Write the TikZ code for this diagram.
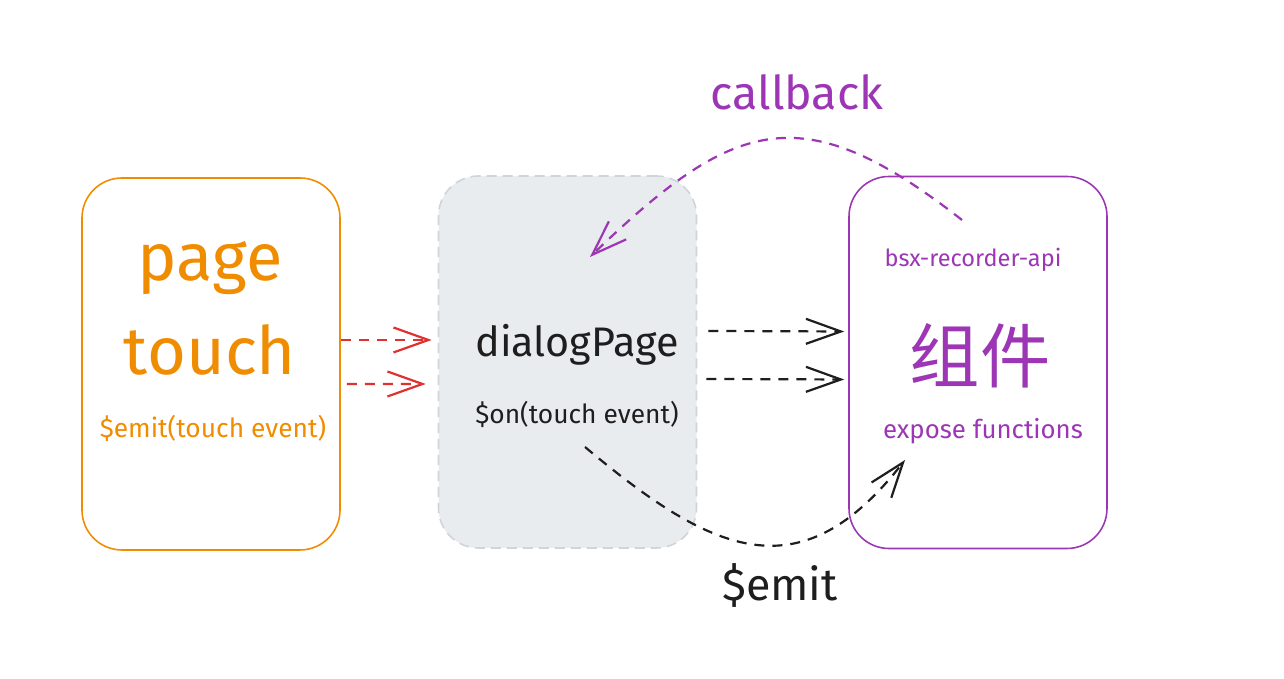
\documentclass[tikz,border=0pt]{standalone}
\usepackage{fontspec}
\setmainfont{Fira Sans}
\newfontfamily\cjk{Noto Sans CJK SC}
\usepackage{tikz}
\usetikzlibrary{arrows.meta, positioning, calc}
\definecolor{pageorange}{HTML}{F08C00}
\definecolor{comppurple}{HTML}{9C36B5}
\definecolor{touchred}{HTML}{E03131}
\definecolor{dlgfill}{HTML}{E9ECEF}
\definecolor{dlgborder}{HTML}{CED4DA}
\definecolor{ink}{HTML}{1E1E1E}

\begin{document}
\begin{tikzpicture}[
        card/.style={rectangle, rounded corners=0.8cm, minimum width=5.16cm, minimum height=7.44cm, line width=0.9pt},
        flow/.style={line width=1.25pt, dash pattern=on 0.2cm off 0.16cm, -{Straight Barb[length=7mm, width=5mm, line width=1.25pt]}},
        txt/.style={inner sep=0pt, anchor=center}]
    \useasboundingbox (0,0) rectangle (25.68,13.58);
    % the three boxes
    \node[card, draw=pageorange] (page) at (4.22,6.30) {};
    \node[card, draw=dlgborder, fill=dlgfill, dashed, dash pattern=on 0.2cm off 0.12cm] (dlg) at (11.35,6.34) {};
    \node[card, draw=comppurple] (comp) at (19.56,6.33) {};
    % texts
    \node[txt, pageorange] (pagettl) at (4.2,8.22) {\fontsize{38}{44}\selectfont page};
    \node[txt, pageorange] (touchttl) at (4.2,6.58) {\fontsize{38}{44}\selectfont touch};
    \node[txt, pageorange] (emitevt) at (4.26,5.02) {\fontsize{15}{18}\selectfont \$emit(touch event)};
    \node[txt, ink] (dlgttl) at (11.54,6.68) {\fontsize{23.5}{28}\selectfont dialogPage};
    \node[txt, ink] (onevt) at (11.54,5.30) {\fontsize{15}{18}\selectfont \$on(touch event)};
    \node[txt, comppurple] (api) at (19.46,8.38) {\fontsize{13.4}{16}\selectfont bsx-recorder-api};
    \node[txt, comppurple] (compttl) at (19.6,6.46) {\fontsize{40}{46}\selectfont\cjk 组件};
    \node[txt, comppurple] (expose) at (19.66,4.96) {\fontsize{14.7}{18}\selectfont expose functions};
    \node[txt, comppurple] (cblbl) at (15.94,11.74) {\fontsize{26.5}{32}\selectfont callback};
    \node[txt, ink] (emitlbl) at (15.6,1.86) {\fontsize{25.5}{30}\selectfont \$emit};
    % free ends of the curved connectors
    \coordinate (cbstart) at (19.24,9.18);
    \coordinate (cbend) at (11.8,8.44);
    \coordinate (emstart) at (11.7,4.64);
    \coordinate (emend) at (18.1,4.38);
    % connectors
    \draw[flow, touchred] ([yshift=0.48cm]page.east) -- ([xshift=-0.12cm, yshift=0.44cm]dlg.west);
    \draw[flow, touchred] ([xshift=0.12cm, yshift=-0.40cm]page.east) -- ([xshift=-0.24cm, yshift=-0.44cm]dlg.west);
    \draw[flow, ink] ([xshift=0.22cm, yshift=0.62cm]dlg.east) -- ([xshift=-0.08cm, yshift=0.62cm]comp.west);
    \draw[flow, ink] ([xshift=0.18cm, yshift=-0.34cm]dlg.east) -- ([xshift=-0.08cm, yshift=-0.34cm]comp.west);
    \draw[flow, comppurple] (cbstart) to[out=142, in=44, looseness=1.38] (cbend);
    \draw[flow, ink] (emstart) to[out=-40, in=232, looseness=1.35] (emend);
\end{tikzpicture}
\end{document}
